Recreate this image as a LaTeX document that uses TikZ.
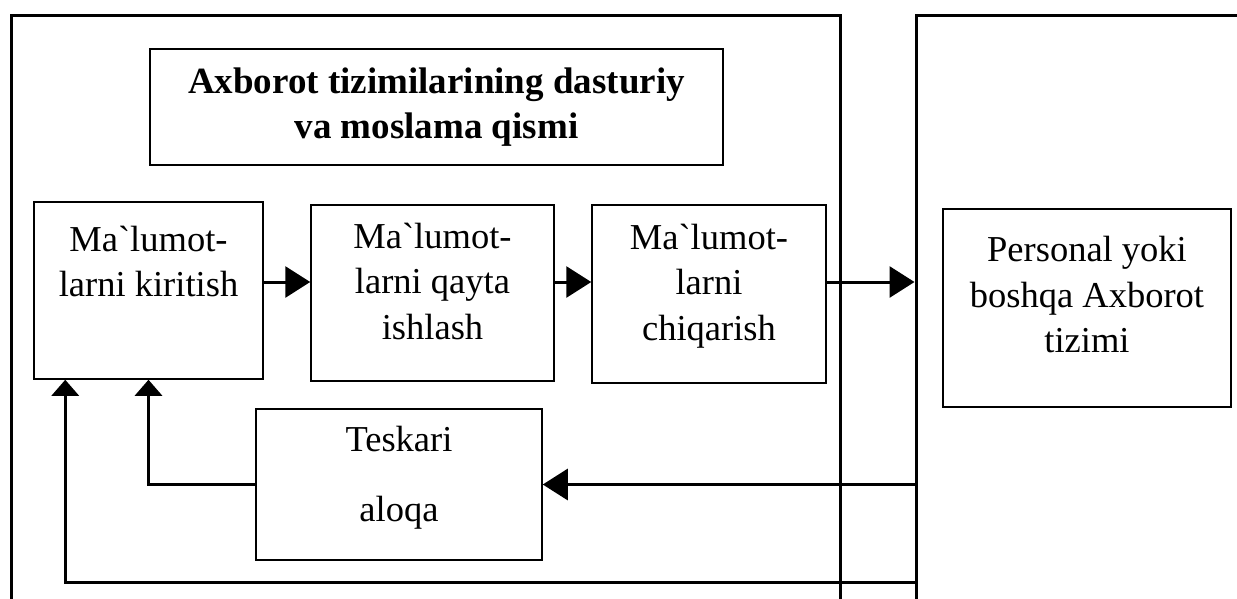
\documentclass[tikz,border=0pt]{standalone}
\usepackage{fontspec}
\setmainfont{Liberation Serif}[Ligatures=TeXOff]
\usetikzlibrary{arrows.meta}
\newcommand{\grv}{\char"60\relax}
\tikzset{
  every node/.style={font=\fontsize{36.5}{45.5}\selectfont,inner sep=0pt},
  frame/.style={draw,line width=3pt},
  box/.style={draw,line width=1.5pt},
  txt/.style={align=center},
  head/.style={font=\bfseries\fontsize{37}{45}\selectfont,align=center},
  flow/.style={-{Triangle[length=25pt,width=31pt]},line width=3pt},
  flowup/.style={-{Triangle[length=16pt,width=27pt]},line width=3pt},
}

\begin{document}
\begin{tikzpicture}[x=1pt,y=-1pt]
\useasboundingbox (0,0) rectangle (1237,598);
\fill[white] (0,0) rectangle (1237,598);
% The two systems; their lower edges run off the page.
\node[frame,minimum width=829,minimum height=602] (sysA) at (425.5,316) {};
\node[frame,minimum width=344,minimum height=602] (sysB) at (1088,316) {};
% Heading of the left system
\node[box,minimum width=573,minimum height=116,
  label={[head,yshift=0]center:{Axborot tizimilarining dasturiy\\va moslama qismi}}] (title) at (436.5,107) {};
% Processing chain
\node[box,minimum width=229,minimum height=177,
  label={[txt,yshift=29]center:{Ma\grv lumot-\\larni kiritish}}] (kirit) at (148.5,290.5) {};
\node[box,minimum width=243,minimum height=176,
  label={[txt,yshift=12]center:{Ma\grv lumot-\\larni qayta\\ishlash}}] (ishlash) at (432.5,293) {};
\node[box,minimum width=234,minimum height=178,
  label={[txt,yshift=8]center:{Ma\grv lumot-\\larni\\chiqarish}}] (chiqar) at (709,294) {};
\node[box,minimum width=288,minimum height=198,
  label={[txt,yshift=13]center:{Personal yoki\\boshqa Axborot\\tizimi}}] (personal) at (1087,308) {};
\node[box,minimum width=286,minimum height=151,
  label={[txt,yshift=7]center:{Teskari\\[24pt]aloqa}}] (teskari) at (399,484.5) {};
\draw[flow] ([yshift=8.5]kirit.east) -- ([yshift=8.5]kirit.east -| ishlash.west);
\draw[flow] ([yshift=11]ishlash.east) -- ([yshift=11]ishlash.east -| chiqar.west);
\draw[flow] ([yshift=12]chiqar.east) -- ([yshift=12]chiqar.east -| sysB.west);
% Feedback paths
\draw[flow] (teskari.east -| sysB.west) -- (teskari.east);
\draw[flowup] (teskari.west) -| (kirit.south);
\coordinate (retline) at (0,582);
\draw[flowup] (sysB.west |- retline) -| ([xshift=32]kirit.south west);
\end{tikzpicture}
\end{document}
